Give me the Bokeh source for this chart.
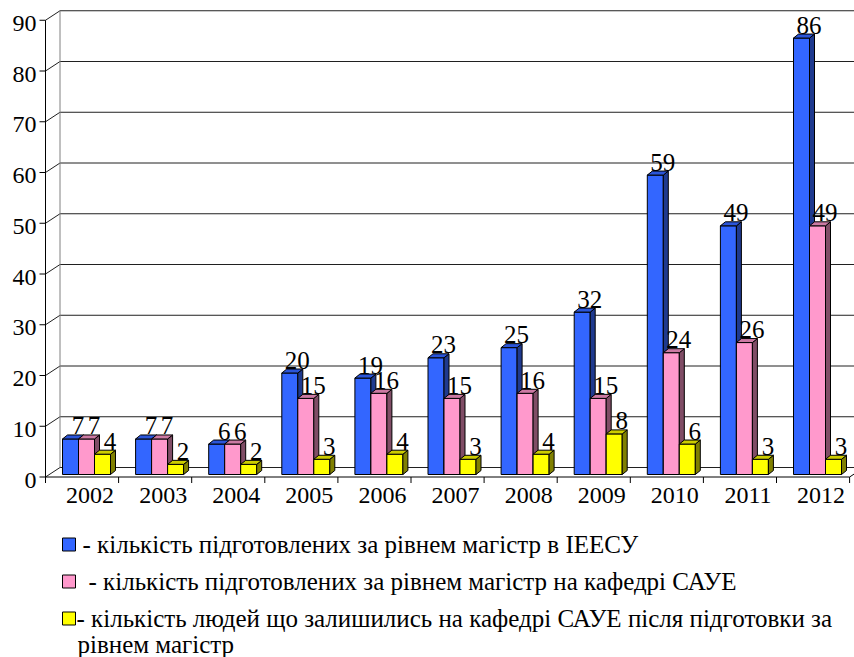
from bokeh.plotting import figure
from bokeh.models import Range1d
from bokeh.embed import file_html
from bokeh.resources import INLINE
from bokeh.core.properties import value

# ---------------- data ----------------
years = ["2002", "2003", "2004", "2005", "2006", "2007", "2008", "2009", "2010", "2011", "2012"]
ieesu = [7, 7, 6, 20, 19, 23, 25, 32, 59, 49, 86]
saue = [7, 7, 6, 15, 16, 15, 16, 15, 24, 26, 49]
stayed = [4, 2, 2, 3, 4, 3, 4, 8, 6, 3, 3]
y_ticks = [0, 10, 20, 30, 40, 50, 60, 70, 80, 90]
legend_labels = [
    ["- кількість підготовлених за рівнем магістр в ІЕЕСУ"],
    ["- кількість підготовлених за рівнем магістр на кафедрі САУЕ"],
    ["- кількість людей що залишились на кафедрі САУЕ після підготовки за",
     "рівнем магістр"],
]
series = [ieesu, saue, stayed]

# ---------------- styles ----------------
fronts = ["#3366FF", "#FF99CC", "#FFFF00"]
tops = ["#2B55D9", "#CC7AA3", "#CCCC00"]
sides = ["#1F3A8F", "#804D66", "#808000"]
FONT = "Liberation Serif"

W, H = 854, 657
CAT_PX = 73.1      # pixels per category
UNIT_PX = 5.075    # pixels per value unit
X0_PX = 45.0       # front axis x (page px)
Y0_PX = 476.5      # front zero y (page px)


def dx(px):
    return px / CAT_PX


def dy(px):
    return px / UNIT_PX


def xpx(px):
    return (px - X0_PX) / CAT_PX


def ypx(py):
    return (Y0_PX - py) / UNIT_PX


x_start, x_end = xpx(0), xpx(W)
y_top, y_bot = ypx(0), ypx(H)

p = figure(width=W, height=H, x_range=Range1d(x_start, x_end), y_range=Range1d(y_bot, y_top),
           output_backend="svg", toolbar_location=None, min_border=0,
           outline_line_color=None, background_fill_color="white", border_fill_color="white")
p.axis.visible = False
p.grid.visible = False

n = len(years)
BX, BY = dx(14.5), dy(9.5)   # back wall offset
x_right = n

# back wall gridlines
p.segment(x0=[BX] * len(y_ticks), y0=[t + BY for t in y_ticks],
          x1=[x_right + BX] * len(y_ticks), y1=[t + BY for t in y_ticks],
          line_color="#202020", line_width=1)
# side wall diagonals
p.segment(x0=[0] * len(y_ticks), y0=y_ticks, x1=[BX] * len(y_ticks), y1=[t + BY for t in y_ticks],
          line_color="#202020", line_width=1)
# back wall left edge
p.segment(x0=[BX], y0=[BY], x1=[BX], y1=[y_ticks[-1] + BY], line_color="#808080", line_width=1)
# floor right diagonal
p.segment(x0=[x_right], y0=[0], x1=[x_right + BX], y1=[BY], line_color="black", line_width=1)

# ---------------- bars ----------------
BAR_W = dx(16)
OFF0 = dx(17)
BASE = dy(2.5)
DX, DY = dx(5), dy(4)
for s, vals in enumerate(series):
    lefts = [i + OFF0 + s * BAR_W for i in range(n)]
    rights = [l + BAR_W for l in lefts]
    topsv = [BASE + v for v in vals]
    p.quad(left=lefts, right=rights, bottom=[BASE] * n, top=topsv,
           fill_color=fronts[s], line_color="black", line_width=1)
    p.patches(xs=[[r, r + DX, r + DX, r] for r in rights],
              ys=[[BASE, BASE + DY, t + DY, t] for t in topsv],
              fill_color=sides[s], line_color="black", line_width=1)
    p.patches(xs=[[l, r, r + DX, l + DX] for l, r in zip(lefts, rights)],
              ys=[[t, t, t + DY, t + DY] for t in topsv],
              fill_color=tops[s], line_color="black", line_width=1)

# data labels
for s, vals in enumerate(series):
    xs = [i + OFF0 + s * BAR_W + BAR_W / 2 + dx(7.5) for i in range(n)]
    ys = [BASE + v + dy(4.5) for v in vals]
    p.text(x=xs, y=ys, text=[str(v) for v in vals], text_font=value(FONT),
           text_font_size="25px", text_align="center", text_baseline="bottom",
           text_color="black")

# ---------------- front axes ----------------
p.segment(x0=[0], y0=[0], x1=[0], y1=[y_ticks[-1]], line_color="black", line_width=1)
p.segment(x0=[dx(-6)] * len(y_ticks), y0=y_ticks, x1=[0] * len(y_ticks), y1=y_ticks,
          line_color="black", line_width=1)
p.text(x=[dx(-9)] * len(y_ticks), y=[t + dy(-3) for t in y_ticks], text=[str(t) for t in y_ticks],
       text_font=value(FONT), text_font_size="24px", text_align="right",
       text_baseline="middle", text_color="black")

p.segment(x0=[0], y0=[0], x1=[x_right], y1=[0], line_color="black", line_width=1)
p.segment(x0=list(range(n + 1)), y0=[0] * (n + 1), x1=list(range(n + 1)), y1=[dy(-6)] * (n + 1),
          line_color="black", line_width=1)
p.text(x=[i + 0.5 + dx(8) for i in range(n)], y=[dy(-11)] * n, text=years,
       text_font=value(FONT), text_font_size="24px", text_align="center",
       text_baseline="top", text_color="black")

# ---------------- legend ----------------
row_y = [544, 581, 618]
text_x = [[82], [88], [76, 77]]
line_gap = 26
for k, lines in enumerate(legend_labels):
    p.rect(x=[xpx(68.5)], y=[ypx(row_y[k])], width=dx(13), height=dy(13),
           fill_color=fronts[k], line_color="black", line_width=1)
    for j, line in enumerate(lines):
        p.text(x=[xpx(text_x[k][j])], y=[ypx(row_y[k] + j * line_gap)], text=[line],
               text_font=value(FONT), text_font_size="25px", text_align="left",
               text_baseline="middle", text_color="black")

open("out.html", "w").write(file_html(p, INLINE))
